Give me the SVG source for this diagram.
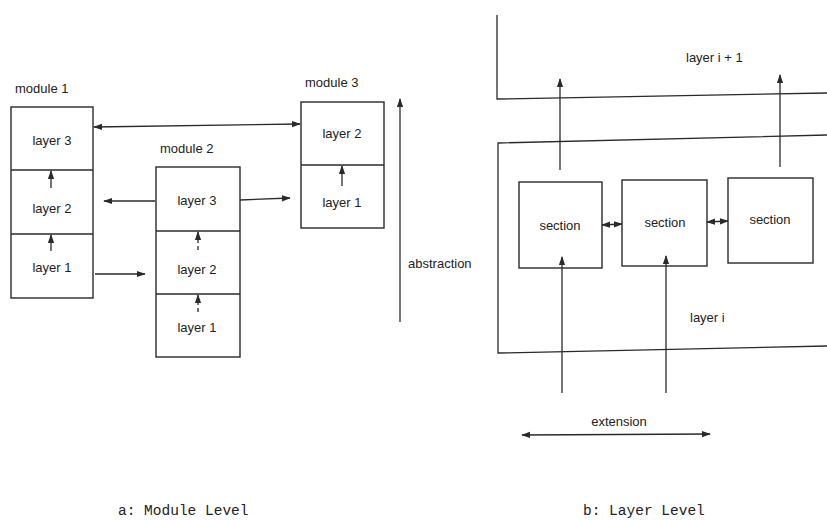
<svg xmlns="http://www.w3.org/2000/svg" width="827" height="520" viewBox="0 0 827 520">
<style>
.bx{fill:none;stroke:#2a2a2a;stroke-width:1.4}
.ln{fill:none;stroke:#2a2a2a;stroke-width:1.3}
.t{font-family:"Liberation Sans","DejaVu Sans",sans-serif;font-size:13px;fill:#222}
.c{text-anchor:middle}
.cap{font-family:"Liberation Mono","DejaVu Sans Mono",monospace;font-size:14.5px;fill:#222}
</style>
<defs>
<marker id="ah" viewBox="0 0 10 10" refX="9" refY="5" markerWidth="9" markerHeight="9" markerUnits="userSpaceOnUse" orient="auto-start-reverse">
<path d="M0,1.5 L10,5 L0,8.5 Z" fill="#2a2a2a"/>
</marker>
</defs>
<rect width="827" height="520" fill="#ffffff"/>

<g id="module1">
<text class="t" x="15" y="93">module 1</text>
<rect class="bx" x="11" y="107" width="82" height="191"/>
<line class="ln" x1="11" y1="170" x2="93" y2="170"/>
<line class="ln" x1="11" y1="234" x2="93" y2="234"/>
<text class="t c" x="52" y="145">layer 3</text>
<text class="t c" x="52" y="213">layer 2</text>
<text class="t c" x="52" y="272">layer 1</text>
</g>

<g id="module2">
<text class="t" x="160" y="153">module 2</text>
<rect class="bx" x="156" y="167" width="84" height="190"/>
<line class="ln" x1="156" y1="231" x2="240" y2="231"/>
<line class="ln" x1="156" y1="294" x2="240" y2="294"/>
<text class="t c" x="197" y="205">layer 3</text>
<text class="t c" x="197" y="274">layer 2</text>
<text class="t c" x="197" y="332">layer 1</text>
</g>

<g id="module3">
<text class="t" x="305" y="87">module 3</text>
<rect class="bx" x="301" y="102" width="83" height="126"/>
<line class="ln" x1="301" y1="165" x2="384" y2="165"/>
<text class="t c" x="342" y="138">layer 2</text>
<text class="t c" x="342" y="207">layer 1</text>
</g>

<g id="layer-i-plus-1">
<polyline class="ln" points="497,15 497,99 827,93"/>
<text class="t" x="686" y="62">layer i + 1</text>
</g>

<g id="layer-i">
<polyline class="ln" points="827,135 498,143 498,353 827,346"/>
<text class="t" x="690" y="322">layer i</text>
</g>

<g id="section1">
<rect class="bx" x="519" y="182" width="83" height="86"/>
<text class="t c" x="560" y="230">section</text>
</g>
<g id="section2">
<rect class="bx" x="622" y="180" width="85" height="86"/>
<text class="t c" x="665" y="227">section</text>
</g>
<g id="section3">
<rect class="bx" x="728" y="178" width="85" height="85"/>
<text class="t c" x="770" y="224">section</text>
</g>

<g id="labels">
<text class="t" x="408" y="268">abstraction</text>
<text class="t c" x="619" y="426">extension</text>
<text class="cap" x="118" y="515">a: Module Level</text>
<text class="cap" x="583" y="515">b: Layer Level</text>
</g>

<g id="connectors">
<line class="ln" x1="94" y1="127" x2="300" y2="124" marker-start="url(#ah)" marker-end="url(#ah)"/>
<line class="ln" x1="155" y1="201" x2="104" y2="201" marker-end="url(#ah)"/>
<line class="ln" x1="240" y1="200" x2="290" y2="198" marker-end="url(#ah)"/>
<line class="ln" x1="95" y1="274" x2="145" y2="274" marker-end="url(#ah)"/>
<line class="ln" x1="51" y1="188" x2="51" y2="171" marker-end="url(#ah)"/>
<line class="ln" x1="51" y1="251" x2="51" y2="235" marker-end="url(#ah)"/>
<line class="ln" x1="198" y1="250" x2="198" y2="232" marker-end="url(#ah)" stroke-dasharray="4,3"/>
<line class="ln" x1="198" y1="312" x2="198" y2="295" marker-end="url(#ah)" stroke-dasharray="4,3"/>
<line class="ln" x1="342" y1="186" x2="342" y2="166" marker-end="url(#ah)"/>
<line class="ln" x1="400" y1="322" x2="400" y2="99" marker-end="url(#ah)"/>
<line class="ln" x1="560" y1="170" x2="560" y2="79" marker-end="url(#ah)"/>
<line class="ln" x1="780" y1="167" x2="780" y2="75" marker-end="url(#ah)"/>
<line class="ln" x1="602" y1="225" x2="622" y2="224" marker-start="url(#ah)" marker-end="url(#ah)"/>
<line class="ln" x1="707" y1="222" x2="728" y2="221" marker-start="url(#ah)" marker-end="url(#ah)"/>
<line class="ln" x1="562" y1="393" x2="562" y2="257" marker-end="url(#ah)"/>
<line class="ln" x1="666" y1="393" x2="666" y2="256" marker-end="url(#ah)"/>
<line class="ln" x1="522" y1="435" x2="710" y2="434" marker-start="url(#ah)" marker-end="url(#ah)"/>
</g>
</svg>
